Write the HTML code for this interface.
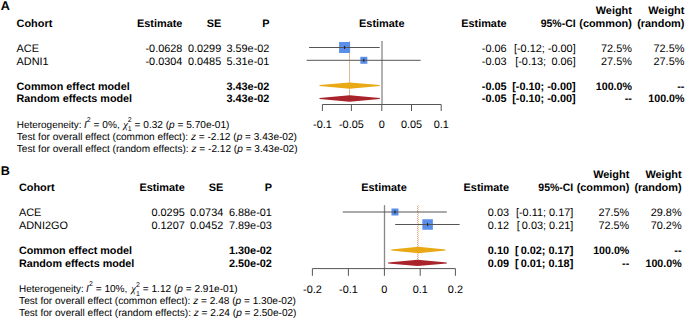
<!DOCTYPE html>
<html><head><meta charset="utf-8"><style>
html,body{margin:0;padding:0;background:#fff;width:685px;height:319px;overflow:hidden}
svg{display:block;text-rendering:geometricPrecision;font-family:"Liberation Sans",sans-serif;fill:#000}
text{white-space:pre}
</style></head><body>
<svg width="685" height="319" viewBox="0 0 685 319">
<rect width="685" height="319" fill="#fff"/>
<text x="0.8" y="9.9" font-weight="bold" font-size="12.6">A</text>
<text x="631.9" y="14.0" text-anchor="end" font-weight="bold" font-size="10.9">Weight</text>
<text x="684.4" y="14.0" text-anchor="end" font-weight="bold" font-size="10.9">Weight</text>
<text x="16.6" y="26.7" font-weight="bold" font-size="10.9">Cohort</text>
<text x="182.4" y="26.7" text-anchor="end" font-weight="bold" font-size="10.9">Estimate</text>
<text x="221.2" y="26.7" text-anchor="end" font-weight="bold" font-size="10.9">SE</text>
<text x="269.4" y="26.7" text-anchor="end" font-weight="bold" font-size="10.9">P</text>
<text x="381.8" y="26.7" text-anchor="middle" font-weight="bold" font-size="10.9">Estimate</text>
<text x="506.6" y="26.7" text-anchor="end" font-weight="bold" font-size="10.9">Estimate</text>
<text x="575.7" y="26.7" text-anchor="end" font-weight="bold" font-size="10.9" textLength="35.0" lengthAdjust="spacingAndGlyphs">95%-CI</text>
<text x="631.9" y="26.7" text-anchor="end" font-weight="bold" font-size="10.9">(common)</text>
<text x="684.4" y="26.7" text-anchor="end" font-weight="bold" font-size="10.9">(random)</text>
<text x="16.6" y="51.9" font-size="10.9">ACE</text>
<text x="182.4" y="51.9" text-anchor="end" font-size="10.9">-0.0628</text>
<text x="221.2" y="51.9" text-anchor="end" font-size="10.9">0.0299</text>
<text x="269.4" y="51.9" text-anchor="end" font-size="10.9">3.59e-02</text>
<text x="506.6" y="51.9" text-anchor="end" font-size="10.9">-0.06</text>
<text x="575.7" y="51.9" text-anchor="end" font-size="10.9">[-0.12; -0.00]</text>
<text x="631.9" y="51.9" text-anchor="end" font-size="10.9">72.5%</text>
<text x="684.4" y="51.9" text-anchor="end" font-size="10.9">72.5%</text>
<text x="16.6" y="64.5" font-size="10.9">ADNI1</text>
<text x="182.4" y="64.5" text-anchor="end" font-size="10.9">-0.0304</text>
<text x="221.2" y="64.5" text-anchor="end" font-size="10.9">0.0485</text>
<text x="269.4" y="64.5" text-anchor="end" font-size="10.9">5.31e-01</text>
<text x="506.6" y="64.5" text-anchor="end" font-size="10.9">-0.03</text>
<text x="575.7" y="64.5" text-anchor="end" font-size="10.9">[-0.13;  <tspan dx="-0.7">0.06]</tspan></text>
<text x="631.9" y="64.5" text-anchor="end" font-size="10.9">27.5%</text>
<text x="684.4" y="64.5" text-anchor="end" font-size="10.9">27.5%</text>
<text x="16.6" y="89.7" font-weight="bold" font-size="10.78">Common effect model</text>
<text x="269.4" y="89.7" text-anchor="end" font-weight="bold" font-size="10.9">3.43e-02</text>
<text x="506.6" y="89.7" text-anchor="end" font-weight="bold" font-size="10.9">-0.05</text>
<text x="575.7" y="89.7" text-anchor="end" font-weight="bold" font-size="10.9">[-0.10; -0.00]</text>
<text x="631.9" y="89.7" text-anchor="end" font-weight="bold" font-size="10.9" textLength="36.1" lengthAdjust="spacingAndGlyphs">100.0%</text>
<text x="684.4" y="89.7" text-anchor="end" font-weight="bold" font-size="10.9">--</text>
<text x="16.6" y="102.3" font-weight="bold" font-size="10.78">Random effects model</text>
<text x="269.4" y="102.3" text-anchor="end" font-weight="bold" font-size="10.9">3.43e-02</text>
<text x="506.6" y="102.3" text-anchor="end" font-weight="bold" font-size="10.9">-0.05</text>
<text x="575.7" y="102.3" text-anchor="end" font-weight="bold" font-size="10.9">[-0.10; -0.00]</text>
<text x="631.9" y="102.3" text-anchor="end" font-weight="bold" font-size="10.9">--</text>
<text x="684.4" y="102.3" text-anchor="end" font-weight="bold" font-size="10.9" textLength="36.1" lengthAdjust="spacingAndGlyphs">100.0%</text>
<text x="16.8" y="127.6" font-size="9.95">Heterogeneity:</text>
<text x="84.1" y="127.6" font-size="10.1" font-style="italic">I</text>
<text x="86.8" y="122.19999999999999" font-size="7">2</text>
<text x="93.6" y="127.6" font-size="10.1">= 0%,</text>
<text x="123.3" y="128.1" font-size="10.4" font-family="Liberation Serif" font-style="italic">χ</text>
<text x="127.75" y="122.0" font-size="7">2</text>
<text x="127.75" y="130.79999999999998" font-size="7">1</text>
<text x="134.6" y="127.6" font-size="10.1">= 0.32 (<tspan font-style="italic">p</tspan> = 5.70e-01)</text>
<text x="16.8" y="139.5" font-size="10.1">Test for overall effect (common effect): <tspan font-style="italic">z</tspan> = -2.12 (<tspan font-style="italic">p</tspan> = 3.43e-02)</text>
<text x="16.8" y="151.7" font-size="10.1">Test for overall effect (random effects): <tspan font-style="italic">z</tspan> = -2.12 (<tspan font-style="italic">p</tspan> = 3.43e-02)</text>
<line x1="382.0" y1="40.9" x2="382.0" y2="104.5" stroke="#888" stroke-width="1.3"/>
<line x1="349.5" y1="40.9" x2="349.5" y2="98.4" stroke="#e8a914" stroke-opacity="0.6" stroke-width="1" stroke-dasharray="1 1"/>
<line x1="349.5" y1="41.9" x2="349.5" y2="98.4" stroke="#a8232a" stroke-opacity="0.45" stroke-width="1" stroke-dasharray="1 1"/>
<rect x="339.0968" y="42.0" width="11" height="11" fill="#5a8ee8"/>
<rect x="360.3424" y="56.8" width="7" height="7" fill="#5a8ee8"/>
<line x1="309.0884" y1="47.5" x2="379.7052" y2="47.5" stroke="#555" stroke-width="1"/>
<line x1="344.5968" y1="45.9" x2="344.5968" y2="49.1" stroke="#123" stroke-width="1"/>
<line x1="306.65299999999996" y1="60.3" x2="420.6318" y2="60.3" stroke="#555" stroke-width="1"/>
<line x1="363.8424" y1="58.699999999999996" x2="363.8424" y2="61.9" stroke="#123" stroke-width="1"/>
<polygon points="319.5,85.1 349.6,82.39999999999999 379.8,85.1 379.8,86.1 349.6,88.8 319.5,86.1" fill="#e8a914"/>
<polygon points="319.5,98.0 349.6,95.3 379.8,98.0 379.8,99.0 349.6,101.7 319.5,99.0" fill="#a8232a"/>
<line x1="322.4" y1="104.5" x2="441.2" y2="104.5" stroke="#555" stroke-width="1"/>
<line x1="322.4" y1="104.5" x2="322.4" y2="111.0" stroke="#555" stroke-width="1"/>
<text x="322.4" y="127.8" text-anchor="middle" font-size="10.9">-0.1</text>
<line x1="351.4" y1="104.5" x2="351.4" y2="111.0" stroke="#555" stroke-width="1"/>
<text x="351.4" y="127.8" text-anchor="middle" font-size="10.9">-0.05</text>
<line x1="381.8" y1="104.5" x2="381.8" y2="111.0" stroke="#555" stroke-width="1"/>
<text x="381.8" y="127.8" text-anchor="middle" font-size="10.9">0</text>
<line x1="411.5" y1="104.5" x2="411.5" y2="111.0" stroke="#555" stroke-width="1"/>
<text x="411.5" y="127.8" text-anchor="middle" font-size="10.9">0.05</text>
<line x1="441.2" y1="104.5" x2="441.2" y2="111.0" stroke="#555" stroke-width="1"/>
<text x="441.2" y="127.8" text-anchor="middle" font-size="10.9">0.1</text>
<text x="0.8" y="174.90457999999998" font-weight="bold" font-size="12.6">B</text>
<text x="629.3" y="178.2" text-anchor="end" font-weight="bold" font-size="10.9">Weight</text>
<text x="681.6" y="178.2" text-anchor="end" font-weight="bold" font-size="10.9">Weight</text>
<text x="18.900000000000002" y="190.89999999999998" font-weight="bold" font-size="10.9">Cohort</text>
<text x="184.8" y="190.89999999999998" text-anchor="end" font-weight="bold" font-size="10.9">Estimate</text>
<text x="223.3" y="190.89999999999998" text-anchor="end" font-weight="bold" font-size="10.9">SE</text>
<text x="271.9" y="190.89999999999998" text-anchor="end" font-weight="bold" font-size="10.9">P</text>
<text x="384.0" y="190.89999999999998" text-anchor="middle" font-weight="bold" font-size="10.9">Estimate</text>
<text x="509.0" y="190.89999999999998" text-anchor="end" font-weight="bold" font-size="10.9">Estimate</text>
<text x="573.3" y="190.89999999999998" text-anchor="end" font-weight="bold" font-size="10.9" textLength="35.0" lengthAdjust="spacingAndGlyphs">95%-CI</text>
<text x="629.3" y="190.89999999999998" text-anchor="end" font-weight="bold" font-size="10.9">(common)</text>
<text x="681.6" y="190.89999999999998" text-anchor="end" font-weight="bold" font-size="10.9">(random)</text>
<text x="18.900000000000002" y="216.1" font-size="10.9">ACE</text>
<text x="184.8" y="216.1" text-anchor="end" font-size="10.9">0.0295</text>
<text x="223.3" y="216.1" text-anchor="end" font-size="10.9">0.0734</text>
<text x="271.9" y="216.1" text-anchor="end" font-size="10.9">6.88e-01</text>
<text x="509.0" y="216.1" text-anchor="end" font-size="10.9">0.03</text>
<text x="573.3" y="216.1" text-anchor="end" font-size="10.9">[-0.11; 0.17]</text>
<text x="629.3" y="216.1" text-anchor="end" font-size="10.9">27.5%</text>
<text x="681.6" y="216.1" text-anchor="end" font-size="10.9">29.8%</text>
<text x="18.900000000000002" y="228.7" font-size="10.9">ADNI2GO</text>
<text x="184.8" y="228.7" text-anchor="end" font-size="10.9">0.1207</text>
<text x="223.3" y="228.7" text-anchor="end" font-size="10.9">0.0452</text>
<text x="271.9" y="228.7" text-anchor="end" font-size="10.9">7.89e-03</text>
<text x="509.0" y="228.7" text-anchor="end" font-size="10.9">0.12</text>
<text x="573.3" y="228.7" text-anchor="end" font-size="10.9">[ <tspan dx="-1">0.03; 0.21]</tspan></text>
<text x="629.3" y="228.7" text-anchor="end" font-size="10.9">72.5%</text>
<text x="681.6" y="228.7" text-anchor="end" font-size="10.9">70.2%</text>
<text x="18.900000000000002" y="253.89999999999998" font-weight="bold" font-size="10.78">Common effect model</text>
<text x="271.9" y="253.89999999999998" text-anchor="end" font-weight="bold" font-size="10.9">1.30e-02</text>
<text x="509.0" y="253.89999999999998" text-anchor="end" font-weight="bold" font-size="10.9">0.10</text>
<text x="573.3" y="253.89999999999998" text-anchor="end" font-weight="bold" font-size="10.9">[ <tspan dx="-1">0.02; 0.17]</tspan></text>
<text x="629.3" y="253.89999999999998" text-anchor="end" font-weight="bold" font-size="10.9" textLength="36.1" lengthAdjust="spacingAndGlyphs">100.0%</text>
<text x="681.6" y="253.89999999999998" text-anchor="end" font-weight="bold" font-size="10.9">--</text>
<text x="18.900000000000002" y="266.5" font-weight="bold" font-size="10.78">Random effects model</text>
<text x="271.9" y="266.5" text-anchor="end" font-weight="bold" font-size="10.9">2.50e-02</text>
<text x="509.0" y="266.5" text-anchor="end" font-weight="bold" font-size="10.9">0.09</text>
<text x="573.3" y="266.5" text-anchor="end" font-weight="bold" font-size="10.9">[ <tspan dx="-1">0.01; 0.18]</tspan></text>
<text x="629.3" y="266.5" text-anchor="end" font-weight="bold" font-size="10.9">--</text>
<text x="681.6" y="266.5" text-anchor="end" font-weight="bold" font-size="10.9" textLength="36.1" lengthAdjust="spacingAndGlyphs">100.0%</text>
<text x="19.1" y="291.79999999999995" font-size="9.95">Heterogeneity:</text>
<text x="86.1" y="291.79999999999995" font-size="10.1" font-style="italic">I</text>
<text x="89.1" y="286.4" font-size="7">2</text>
<text x="95.7" y="291.79999999999995" font-size="10.1">= 10%,</text>
<text x="131.3" y="292.29999999999995" font-size="10.4" font-family="Liberation Serif" font-style="italic">χ</text>
<text x="136.0" y="286.79999999999995" font-size="7">2</text>
<text x="136.0" y="295.69999999999993" font-size="7">1</text>
<text x="142.8" y="291.79999999999995" font-size="10.1">= 1.12 (<tspan font-style="italic">p</tspan> = 2.91e-01)</text>
<text x="19.1" y="303.7" font-size="10.1">Test for overall effect (common effect): <tspan font-style="italic">z</tspan> = 2.48 (<tspan font-style="italic">p</tspan> = 1.30e-02)</text>
<text x="19.1" y="315.9" font-size="10.1">Test for overall effect (random effects): <tspan font-style="italic">z</tspan> = 2.24 (<tspan font-style="italic">p</tspan> = 2.50e-02)</text>
<line x1="384.5" y1="205.1" x2="384.5" y2="268.6" stroke="#888" stroke-width="1.3"/>
<line x1="418.5" y1="205.1" x2="418.5" y2="262.7" stroke="#e8a914" stroke-opacity="0.6" stroke-width="1" stroke-dasharray="1 1"/>
<line x1="417.5" y1="206.1" x2="417.5" y2="262.7" stroke="#a8232a" stroke-opacity="0.45" stroke-width="1" stroke-dasharray="1 1"/>
<rect x="391.46099999999996" y="208.5" width="7" height="7" fill="#5a8ee8"/>
<rect x="422.3606" y="219.25" width="10.5" height="10.5" fill="#5a8ee8"/>
<line x1="342.7448" y1="212.0" x2="446.7772" y2="212.0" stroke="#555" stroke-width="1"/>
<line x1="394.96099999999996" y1="210.4" x2="394.96099999999996" y2="213.6" stroke="#123" stroke-width="1"/>
<line x1="395.1918" y1="224.5" x2="459.6294" y2="224.5" stroke="#555" stroke-width="1"/>
<line x1="427.6106" y1="222.9" x2="427.6106" y2="226.1" stroke="#123" stroke-width="1"/>
<polygon points="391.2,249.5 418.4,246.8 445.6,249.5 445.6,250.5 418.4,253.2 391.2,250.5" fill="#e8a914"/>
<polygon points="388.1,262.4 417.6,259.7 446.8,262.4 446.8,263.4 417.6,266.09999999999997 388.1,263.4" fill="#a8232a"/>
<line x1="312.4" y1="268.6" x2="455.4" y2="268.6" stroke="#555" stroke-width="1"/>
<line x1="312.4" y1="268.6" x2="312.4" y2="275.8" stroke="#555" stroke-width="1"/>
<text x="312.4" y="292.70000000000005" text-anchor="middle" font-size="10.9">-0.2</text>
<line x1="348.4" y1="268.6" x2="348.4" y2="275.8" stroke="#555" stroke-width="1"/>
<text x="348.4" y="292.70000000000005" text-anchor="middle" font-size="10.9">-0.1</text>
<line x1="384.4" y1="268.6" x2="384.4" y2="275.8" stroke="#555" stroke-width="1"/>
<text x="384.4" y="292.70000000000005" text-anchor="middle" font-size="10.9">0</text>
<line x1="420.2" y1="268.6" x2="420.2" y2="275.8" stroke="#555" stroke-width="1"/>
<text x="420.2" y="292.70000000000005" text-anchor="middle" font-size="10.9">0.1</text>
<line x1="455.4" y1="268.6" x2="455.4" y2="275.8" stroke="#555" stroke-width="1"/>
<text x="455.4" y="292.70000000000005" text-anchor="middle" font-size="10.9">0.2</text>
</svg>
</body></html>
